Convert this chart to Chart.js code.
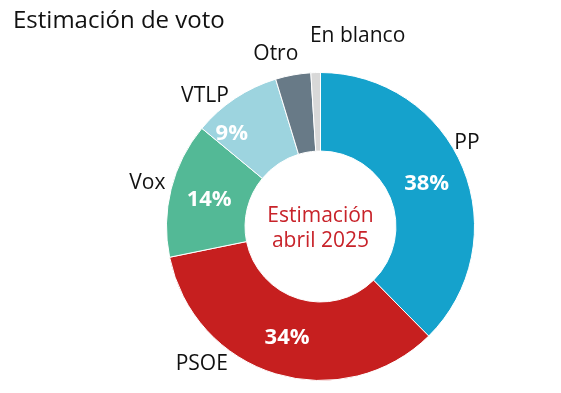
<!DOCTYPE html>
<html>
<head>
<meta charset="utf-8">
<script src="https://cdn.jsdelivr.net/npm/chart.js@4/dist/chart.umd.min.js"></script>
<style>
html,body{margin:0;padding:0;background:#fff;}
#wrap{position:relative;width:561px;height:393px;}
</style>
</head>
<body>
<div id="wrap"><canvas id="c" width="561" height="393"></canvas></div>
<script>
// ---- data ----
const categories = ["PP", "PSOE", "Vox", "VTLP", "Otro", "En blanco"];
const values = [37.6, 34.2, 14.2, 9.3, 3.7, 1.0];
const shownPercent = ["38%", "34%", "14%", "9%", "", ""];
const colors = ["#15a2cc", "#c61f1f", "#53b996", "#9dd4df", "#687a87", "#d8d8d8"];
const titleText = "Estimación de voto";
const centerLines = ["Estimación", "abril 2025"];

// label placement (angle in degrees clockwise from top, radius as fraction of outer radius)
const nameLabelAngle = [60.4, 220.7, 284, 318.4, 345.5, 11];
const nameLabelRadius = [1.094, 1.182, 1.159, 1.13, 1.159, 1.262];
const pctAngleOverride = [null, null, null, 316.7, null, null];
const pctRadiusOverride = [null, null, null, 0.84, null, null];

const FONT = "'Open Sans', 'Noto Sans', sans-serif";

const labelPlugin = {
  id: 'labels',
  afterDraw(chart) {
    const ctx = chart.ctx;
    const meta = chart.getDatasetMeta(0);
    const a0 = meta.data[0];
    const cx = a0.x, cy = a0.y;
    const R = a0.outerRadius, r = a0.innerRadius;
    ctx.save();
    // title
    ctx.fillStyle = '#111111';
    ctx.font = `400 24px ${FONT}`;
    ctx.textAlign = 'left';
    ctx.textBaseline = 'middle';
    ctx.fillText(titleText, 13, 21);
    // center text
    ctx.fillStyle = '#c8232a';
    ctx.font = `400 21px ${FONT}`;
    ctx.textAlign = 'center';
    ctx.fillText(centerLines[0], cx, cy - 10);
    ctx.fillText(centerLines[1], cx, cy + 15);
    // arcs labels
    meta.data.forEach((arc, i) => {
      // percentage
      if (shownPercent[i]) {
        const mid = (arc.startAngle + arc.endAngle) / 2;
        let ang = mid, rad = (R + r) / 2;
        if (pctAngleOverride[i] !== null) ang = (pctAngleOverride[i] - 90) * Math.PI / 180;
        if (pctRadiusOverride[i] !== null) rad = R * pctRadiusOverride[i];
        ctx.fillStyle = '#ffffff';
        ctx.font = `700 22px ${FONT}`;
        ctx.textAlign = 'center';
        ctx.textBaseline = 'middle';
        ctx.fillText(shownPercent[i], cx + Math.cos(ang) * rad, cy + Math.sin(ang) * rad + 1);
      }
      // names
      const na = (nameLabelAngle[i] - 90) * Math.PI / 180;
      const nr = R * nameLabelRadius[i];
      ctx.fillStyle = '#111111';
      ctx.font = `400 21px ${FONT}`;
      ctx.textAlign = 'center';
      ctx.textBaseline = 'middle';
      ctx.fillText(categories[i], cx + Math.cos(na) * nr, cy + Math.sin(na) * nr);
    });
    ctx.restore();
  }
};

new Chart(document.getElementById('c'), {
  type: 'doughnut',
  data: {
    labels: categories,
    datasets: [{
      data: values,
      backgroundColor: colors,
      borderColor: '#ffffff',
      borderWidth: 1
    }]
  },
  options: {
    responsive: false,
    animation: false,
    cutout: '49%',
    layout: { padding: { top: 72, bottom: 12, left: 166, right: 86 } },
    plugins: { legend: { display: false }, tooltip: { enabled: false }, title: { display: false } }
  },
  plugins: [labelPlugin]
});
</script>
</body>
</html>
